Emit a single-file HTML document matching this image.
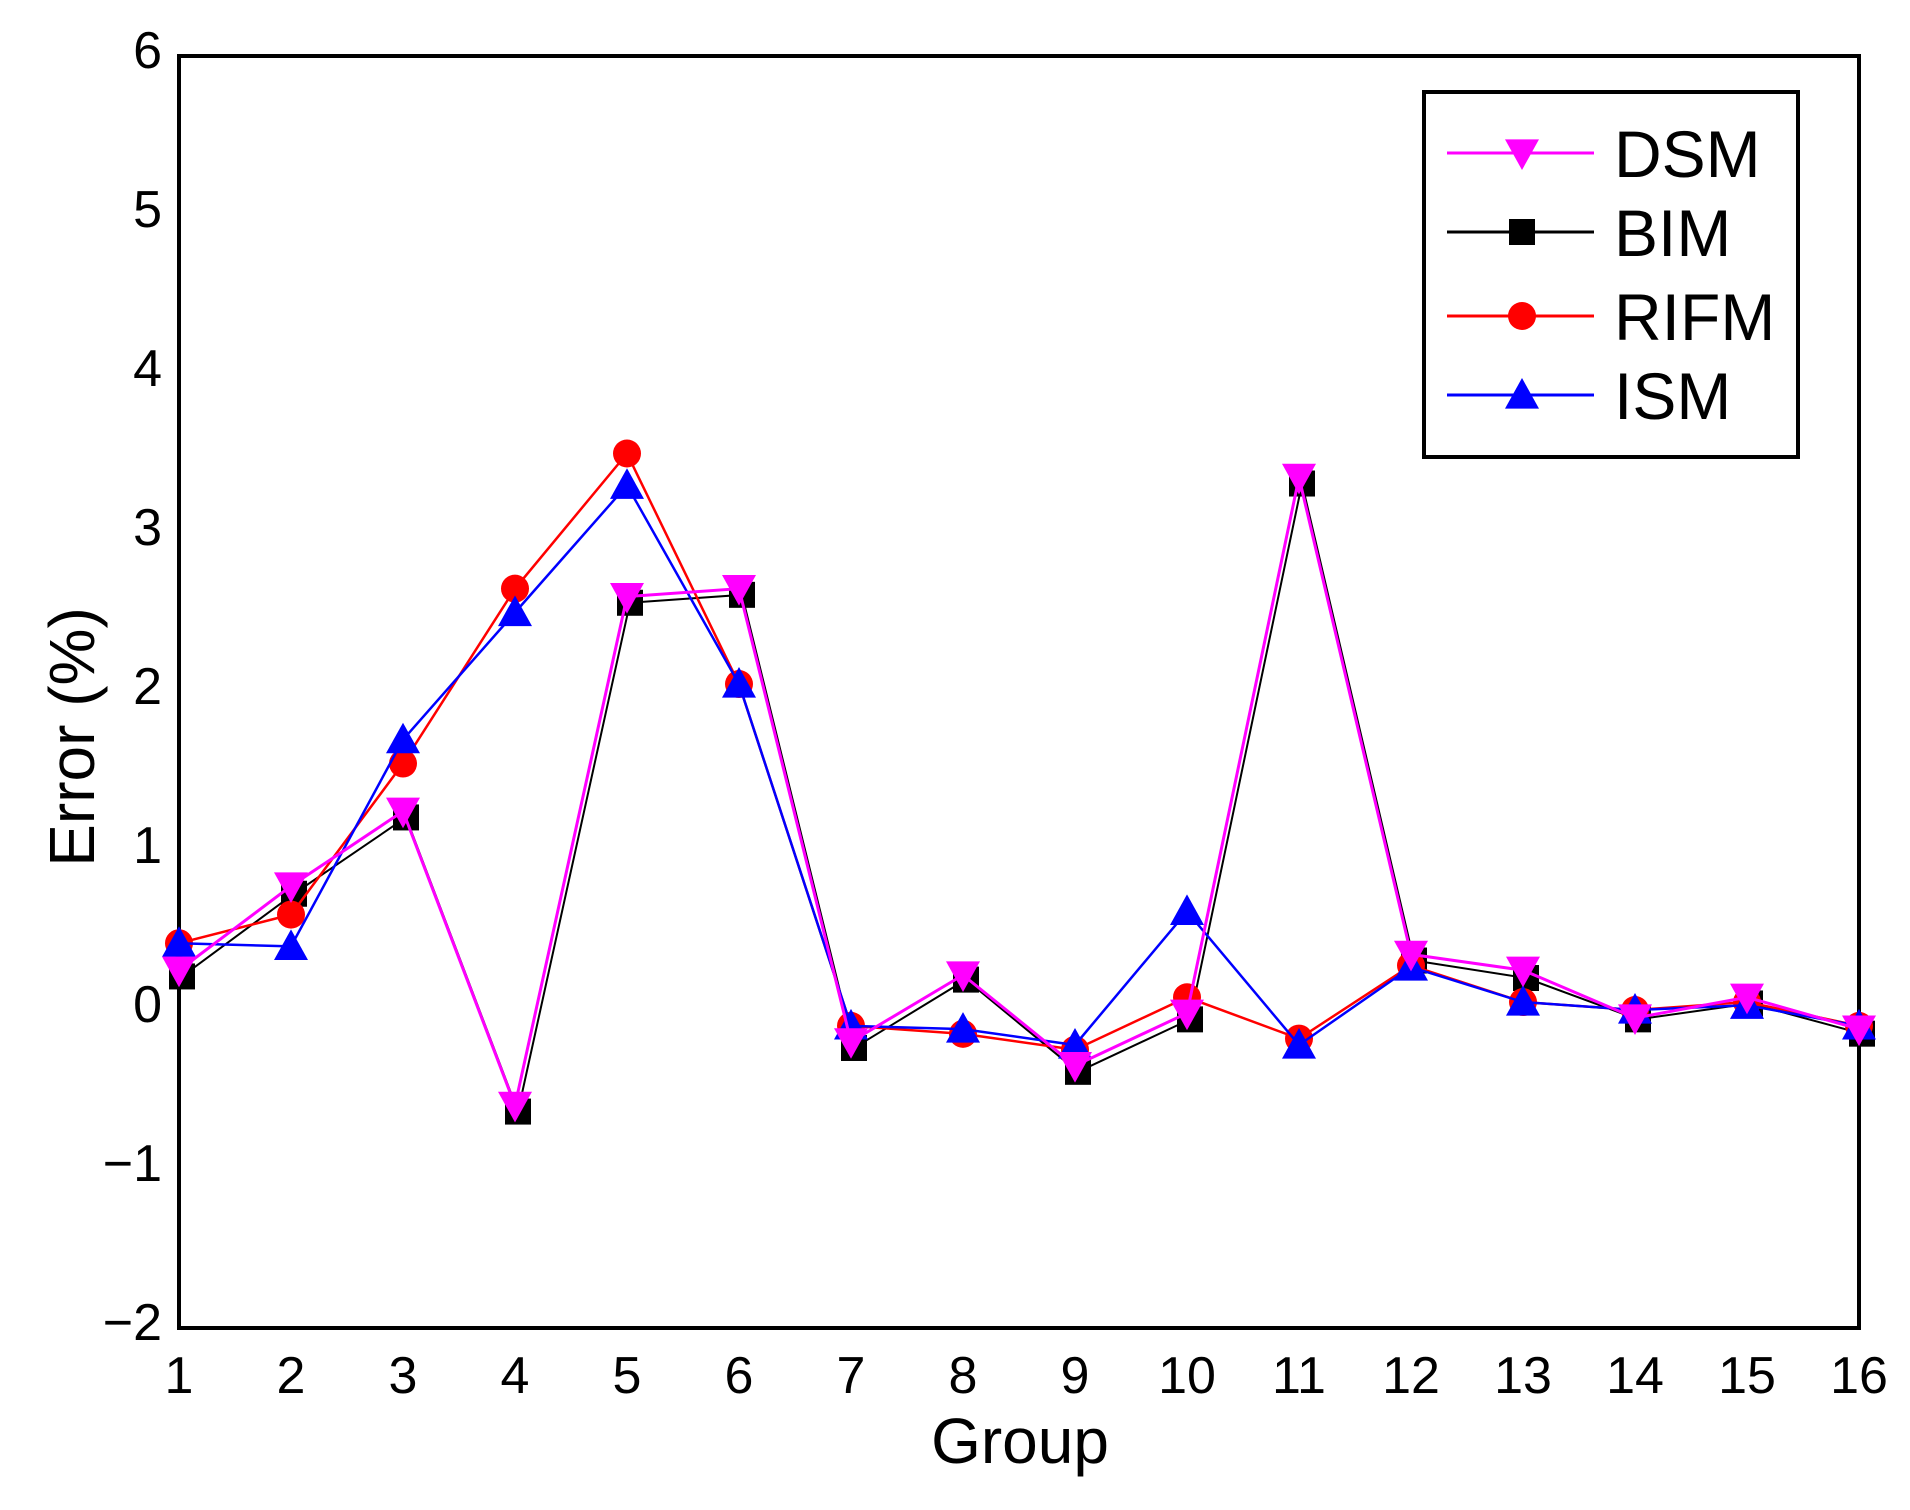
<!DOCTYPE html>
<html><head><meta charset="utf-8"><style>
html,body{margin:0;padding:0;background:#fff;}
svg{display:block;font-family:"Liberation Sans",Arial,sans-serif;}
</style></head><body>
<svg id="chart" width="1910" height="1510" viewBox="0 0 1910 1510"></svg>
<script>
const groups=[1,2,3,4,5,6,7,8,9,10,11,12,13,14,15,16];
const yTicks=[-2,-1,0,1,2,3,4,5,6];
const dsm=[0.25,0.78,1.25,-0.6,2.6,2.65,-0.2,0.22,-0.35,-0.02,3.35,0.35,0.25,-0.05,0.08,-0.12];
const bim=[0.23,0.75,1.23,-0.62,2.58,2.63,-0.22,0.21,-0.37,-0.04,3.33,0.33,0.22,-0.04,0.06,-0.13];
const rifm=[0.42,0.6,1.55,2.65,3.5,2.05,-0.1,-0.15,-0.25,0.08,-0.18,0.28,0.05,0.0,0.05,-0.1];
const ism=[0.42,0.4,1.7,2.5,3.3,2.05,-0.1,-0.12,-0.22,0.62,-0.22,0.27,0.05,0.0,0.03,-0.1];

const NS="http://www.w3.org/2000/svg";
const svg=document.getElementById('chart');
const L=179,R=1859,T=56,B=1328;
const xs=g=>L+(g-1)/15*(R-L);
const ys=v=>B-(v+2)/8*(B-T);
function mk(tag,attrs,parent){const e=document.createElementNS(NS,tag);for(const k in attrs)e.setAttribute(k,attrs[k]);(parent||svg).appendChild(e);return e;}

const frame=mk('rect',{x:L,y:T,width:R-L,height:B-T,fill:'none',stroke:'#000','stroke-width':4});



groups.forEach(g=>{
  const t=mk('text',{x:xs(g),y:1393,'font-size':52,'text-anchor':'middle',fill:'#000'});
  t.textContent=g;
  
  
});
yTicks.forEach(v=>{
  const t=mk('text',{x:162,y:ys(v)+12,'font-size':52,'text-anchor':'end',fill:'#000'});
  t.textContent=v<0?'\u2212'+Math.abs(v):String(v);
  
  
});
const xt=mk('text',{x:1020,y:1463,'font-size':64,'text-anchor':'middle',fill:'#000'});
xt.textContent='Group';


const yt=mk('text',{x:0,y:0,'font-size':64,'text-anchor':'middle',fill:'#000',transform:'translate(94,737) rotate(-90)'});
yt.textContent='Error (%)';



function marker(type,cx,cy,color,parent){
  const s=17;
  let e;
  if(type==='down') e=mk('polygon',{points:`${cx-s},${cy-s*0.8} ${cx+s},${cy-s*0.8} ${cx},${cy+s}`,fill:color},parent);
  else if(type==='up') e=mk('polygon',{points:`${cx-s},${cy+s*0.8} ${cx+s},${cy+s*0.8} ${cx},${cy-s}`,fill:color},parent);
  else if(type==='sq') e=mk('rect',{x:cx-13,y:cy-13,width:26,height:26,fill:color},parent);
  else e=mk('circle',{cx:cx,cy:cy,r:14,fill:color},parent);
  return e;
}
const series=[
  {name:'bim',data:bim,color:'#000',m:'sq',dx:3,dy:3,w:2},
  {name:'rifm',data:rifm,color:'#f00',m:'dot',dx:0,dy:0,w:2.5},
  {name:'ism',data:ism,color:'#00f',m:'up',dx:0,dy:0,w:2.5},
  {name:'dsm',data:dsm,color:'#f0f',m:'down',dx:0,dy:0,w:3}
];
series.forEach(s=>{
  const g=mk('g',{});
  
  
  const pts=s.data.map((v,i)=>`${xs(groups[i])+s.dx},${ys(v)+s.dy}`).join(' ');
  const pl=mk('polyline',{points:pts,fill:'none',stroke:s.color,'stroke-width':s.w},g);
  
  
  s.data.forEach((v,i)=>{
    const e=marker(s.m,xs(groups[i])+s.dx,ys(v)+s.dy,s.color,g);
    
    
  });
});

const lg=mk('g',{});


mk('rect',{x:1424,y:92,width:374,height:365,fill:'#fff',stroke:'#000','stroke-width':4},lg);
const entries=[['DSM','#f0f','down',153],['BIM','#000','sq',232],['RIFM','#f00','dot',316],['ISM','#00f','up',395]];
entries.forEach(en=>{
  const g=mk('g',{},lg);
  
  
  mk('line',{x1:1447,x2:1594,y1:en[3],y2:en[3],stroke:en[1],'stroke-width':3},g);
  marker(en[2],1522,en[3],en[1],g);
  const t=mk('text',{x:1614,y:en[3]+24,'font-size':66,fill:'#000'},g);
  t.textContent=en[0];
});
</script>
</body></html>
